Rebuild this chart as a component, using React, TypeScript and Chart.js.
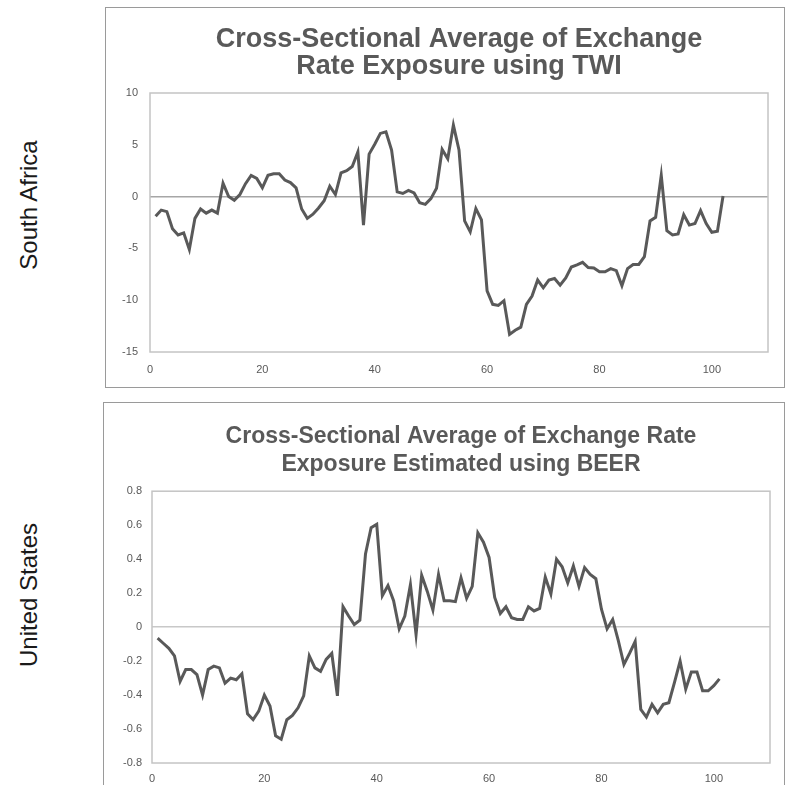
import React, { useEffect, useRef } from "react";
import { Chart, registerables } from "chart.js";

Chart.register(...registerables);

// South Africa: cross-sectional average exposure (TWI), periods 1..102
const saValues = [
  -1.9, -1.3, -1.45, -3.1, -3.7, -3.5, -5.1, -2.1, -1.2, -1.6,
  -1.3, -1.6, 1.3, 0.0, -0.35, 0.2, 1.25, 2.05, 1.75, 0.85,
  2.05, 2.2, 2.2, 1.6, 1.35, 0.85, -1.2, -2.1, -1.7, -1.1,
  -0.4, 1.0, 0.2, 2.3, 2.5, 2.9, 4.3, -2.75, 4.1, 5.05,
  6.1, 6.25, 4.5, 0.45, 0.3, 0.6, 0.35, -0.6, -0.75, -0.2,
  0.8, 4.55, 3.65, 6.9, 4.5, -2.35, -3.4, -1.15, -2.25, -9.1,
  -10.4, -10.5, -10.05, -13.3, -12.9, -12.6, -10.4, -9.6, -8.05, -8.8,
  -8.05, -7.9, -8.55, -7.85, -6.8, -6.6, -6.35, -6.85, -6.9, -7.25,
  -7.25, -6.95, -7.15, -8.6, -6.95, -6.55, -6.55, -5.8, -2.35, -2.0,
  2.05, -3.3, -3.7, -3.6, -1.75, -2.75, -2.6, -1.35, -2.6, -3.45,
  -3.35, 0.05,
];

// United States: cross-sectional average exposure (BEER), periods 1..101
const usValues = [
  -0.065, -0.095, -0.125, -0.17, -0.32, -0.25, -0.25, -0.28, -0.4, -0.25,
  -0.23, -0.24, -0.33, -0.3, -0.31, -0.275, -0.51, -0.545, -0.495, -0.4,
  -0.465, -0.64, -0.66, -0.545, -0.52, -0.475, -0.405, -0.17, -0.24, -0.26,
  -0.19, -0.155, -0.405, 0.12, 0.065, 0.015, 0.04, 0.43, 0.585, 0.605,
  0.185, 0.245, 0.155, -0.01, 0.065, 0.25, -0.045, 0.305, 0.21, 0.1,
  0.31, 0.155, 0.155, 0.15, 0.29, 0.17, 0.24, 0.555, 0.5, 0.41,
  0.175, 0.08, 0.12, 0.055, 0.045, 0.045, 0.12, 0.095, 0.11, 0.295,
  0.195, 0.4, 0.355, 0.26, 0.36, 0.24, 0.35, 0.31, 0.285, 0.105,
  -0.01, 0.045, -0.08, -0.22, -0.155, -0.085, -0.485, -0.53, -0.455, -0.505,
  -0.455, -0.445, -0.325, -0.2, -0.365, -0.265, -0.265, -0.375, -0.375, -0.345,
  -0.305,
];

const saTitle = ["Cross-Sectional Average of Exchange", "Rate Exposure using TWI"];
const usTitle = ["Cross-Sectional Average of Exchange Rate", "Exposure Estimated using BEER"];
const rowLabels = ["South Africa", "United States"];

const saYTicks = { min: -15, max: 10, step: 5 };
const usYTicks = { min: -0.8, max: 0.8, step: 0.2 };
const xTicks = { min: 0, max: 110, step: 20 };

const LINE = "#595959";

const plotBorder = {
  id: "plotBorder",
  beforeDatasetsDraw(chart: any) {
    const { ctx, chartArea: a } = chart;
    ctx.save();
    ctx.strokeStyle = "#c4c4c4";
    ctx.lineWidth = 1.5;
    ctx.strokeRect(a.left, a.top, a.width, a.height);
    ctx.restore();
  },
};

type Cfg = {
  values: number[];
  title: string[];
  titleSize: number;
  titleLH: number;
  titlePadTop: number;
  titlePadBottom: number;
  yTicks: { min: number; max: number; step: number };
  yWidth: number;
  yPad: number;
  xHeight: number;
  xPad: number;
  padRight: number;
  zeroColor: string;
  fmt: (v: number) => string;
  width: number;
  height: number;
};

function LineChart(props: Cfg) {
  const ref = useRef<HTMLCanvasElement>(null);
  useEffect(() => {
    const c = props;
    const points = c.values.map((v, i) => ({ x: i + 1, y: v }));
    const chart = new Chart(ref.current!, {
      type: "line",
      data: {
        datasets: [
          {
            data: points,
            borderColor: LINE,
            borderWidth: 3,
            pointRadius: 0,
            tension: 0,
            fill: false,
          },
        ],
      },
      plugins: [plotBorder],
      options: {
        animation: false,
        responsive: false,
        maintainAspectRatio: false,
        layout: { padding: { left: 0, right: c.padRight, top: 0, bottom: 0 } },
        plugins: {
          legend: { display: false },
          tooltip: { enabled: false },
          title: {
            display: true,
            text: c.title,
            fullSize: false,
            color: LINE,
            font: { family: "'Liberation Sans', Arial, sans-serif", size: c.titleSize, weight: "bold", lineHeight: c.titleLH },
            padding: { top: c.titlePadTop, bottom: c.titlePadBottom },
          },
        },
        scales: {
          x: {
            type: "linear",
            min: xTicks.min,
            max: xTicks.max,
            grid: { display: false, drawTicks: false },
            border: { display: false },
            ticks: {
              stepSize: xTicks.step,
              includeBounds: false,
              padding: c.xPad,
              color: LINE,
              maxRotation: 0,
              font: { family: "'Liberation Sans', Arial, sans-serif", size: 11 },
            },
            afterFit: (s: any) => {
              s.height = c.xHeight;
            },
          },
          y: {
            type: "linear",
            min: c.yTicks.min,
            max: c.yTicks.max,
            grid: {
              drawTicks: false,
              color: (ctx: any) => (Math.abs(ctx.tick?.value ?? 1) < 1e-9 ? c.zeroColor : "rgba(0,0,0,0)"),
              lineWidth: 1.5,
            },
            border: { display: false },
            ticks: {
              stepSize: c.yTicks.step,
              padding: c.yPad,
              color: LINE,
              font: { family: "'Liberation Sans', Arial, sans-serif", size: 11 },
              callback: (v: any) => c.fmt(Number(v)),
            },
            afterFit: (s: any) => {
              s.width = c.yWidth;
            },
          },
        },
      },
    } as any);
    return () => chart.destroy();
  }, []);
  return <canvas ref={ref} width={props.width} height={props.height} style={{ display: "block", width: props.width, height: props.height }} />;
}

const labelStyle = (cy: number): React.CSSProperties => ({
  position: "absolute",
  left: 29,
  top: cy,
  transform: "translate(-50%, -50%) rotate(-90deg)",
  whiteSpace: "nowrap",
  fontFamily: "'Liberation Sans', Arial, sans-serif",
  fontSize: 24,
  color: "#1a1a1a",
});

export default function App() {
  return (
    <div style={{ position: "fixed", left: 0, top: 0, width: 788, height: 785, overflow: "hidden", background: "#fff" }}>
      <div style={labelStyle(205)}>{rowLabels[0]}</div>
      <div style={labelStyle(595)}>{rowLabels[1]}</div>
      <div
        style={{
          position: "absolute",
          left: 105,
          top: 7,
          width: 680,
          height: 381,
          boxSizing: "border-box",
          border: "1px solid #9a9a9a",
        }}
      >
        <LineChart
          values={saValues}
          title={saTitle}
          titleSize={27}
          titleLH={1.0}
          titlePadTop={18}
          titlePadBottom={13}
          yTicks={saYTicks}
          yWidth={44}
          yPad={12}
          xHeight={35}
          xPad={11}
          padRight={16}
          zeroColor="#a6a6a6"
          fmt={(v) => String(v)}
          width={678}
          height={379}
        />
      </div>
      <div
        style={{
          position: "absolute",
          left: 103,
          top: 402,
          width: 682,
          height: 400,
          boxSizing: "border-box",
          border: "1px solid #9a9a9a",
        }}
      >
        <LineChart
          values={usValues}
          title={usTitle}
          titleSize={23}
          titleLH={1.2}
          titlePadTop={20}
          titlePadBottom={13}
          yTicks={usYTicks}
          yWidth={48}
          yPad={10}
          xHeight={22}
          xPad={9}
          padRight={14}
          zeroColor="#c8c8c8"
          fmt={(v) => String(Math.round(v * 10) / 10)}
          width={680}
          height={382}
        />
      </div>
    </div>
  );
}
